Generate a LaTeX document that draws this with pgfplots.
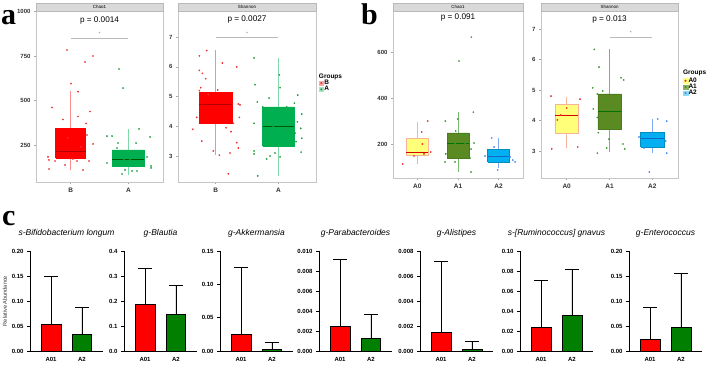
\documentclass[border=0pt]{standalone}
\usepackage{fontspec}
\setmainfont{Liberation Sans}
\newfontfamily\panelfont{Liberation Serif}
\usepackage{pgfplots}
\pgfplotsset{compat=1.18}

\definecolor{stripgray}{HTML}{D9D9D9}
\definecolor{redA}{HTML}{FF0000}
\definecolor{greenA}{HTML}{00B050}
\definecolor{ptRed}{HTML}{F03030}
\definecolor{ptGreen}{HTML}{1EA03C}
\definecolor{yelB}{HTML}{FFFF7A}
\definecolor{yelBorder}{HTML}{F6B29A}
\definecolor{oliveB}{HTML}{5B8A22}
\definecolor{oliveBorder}{HTML}{4C7A1C}
\definecolor{blueB}{HTML}{00B0F0}
\definecolor{blueMed}{HTML}{1565C8}
\definecolor{ptBlue}{HTML}{4A86F0}
\definecolor{ptOlive}{HTML}{3C9A30}
\definecolor{barGreen}{HTML}{007F00}

\newcommand{\strip}[1]{%
  \draw[fill=stripgray, draw=gray!55, line width=0.4pt] (rel axis cs:0,1) rectangle ([yshift=8pt]rel axis cs:1,1);
  \node[font=\fontsize{4.5}{5}\selectfont, inner sep=0pt] at ([yshift=4pt]rel axis cs:0.5,1) {#1};}

\pgfplotsset{
  boxax/.style={scale only axis, anchor=south west, xmin=0.4, xmax=2.6, clip=false,
    axis line style={gray!45, line width=0.5pt},
    tick pos=left, tick align=outside, major tick length=2pt,
    tick style={gray!70, line width=0.4pt},
    xticklabel style={font=\fontsize{6.5}{7}\selectfont\bfseries, text=black!80},
    yticklabel style={font=\fontsize{6}{7}\selectfont\bfseries, text=black!80},
    /pgf/number format/assume math mode=true, /pgf/number format/1000 sep={},
    legend style={draw=none, fill=none, font=\fontsize{6.5}{7}\selectfont\bfseries,
      inner sep=0pt, row sep=-1pt, nodes={inner sep=0.6pt}},
    legend cell align=left},
  pts/.style={only marks, mark=*, mark size=0.65pt, forget plot, color=#1},
  bx/.style={forget plot, line width=0.6pt},
  cbar/.style={scale only axis, anchor=south west, width=73pt, height=100pt,
    xmin=-0.68, xmax=1.68, ymin=0, clip=false,
    axis lines*=left, axis line style={line width=0.9pt, black},
    xtick={0,1}, xticklabels={A01,A2}, xtick style={draw=none},
    ytick style={black, line width=0.8pt}, tick align=outside, major tick length=3pt,
    ticklabel style={font=\fontsize{6}{6.5}\selectfont\bfseries},
    scaled y ticks=false,
    /pgf/number format/assume math mode=true,
    title style={at={(0.5,1)}, anchor=center, yshift=12pt, font=\fontsize{8.5}{10}\selectfont\itshape}},
  rbar/.style={ybar, bar width=0.645, bar shift=0pt, fill=red, draw=black, line width=0.9pt,
    error bars/.cd, y dir=plus, y explicit,
    error bar style={line width=0.9pt, black},
    error mark options={rotate=90, mark size=7pt, line width=0.9pt, black}},
  gbar/.style={ybar, bar width=0.645, bar shift=0pt, fill=barGreen, draw=black, line width=0.9pt,
    error bars/.cd, y dir=plus, y explicit,
    error bar style={line width=0.9pt, black},
    error mark options={rotate=90, mark size=7pt, line width=0.9pt, black}},
}

\begin{document}
\begin{tikzpicture}
\useasboundingbox (0,0) rectangle (708pt,367pt);

% panel labels
\node[anchor=base west, inner sep=0pt, font=\panelfont\bfseries\fontsize{30}{30}\selectfont] at (1pt,342pt) {a};
\node[anchor=base west, inner sep=0pt, font=\panelfont\bfseries\fontsize{30}{30}\selectfont] at (361pt,342pt) {b};
\node[anchor=base west, inner sep=0pt, font=\panelfont\bfseries\fontsize{30}{30}\selectfont] at (2pt,142pt) {c};

%================ panel a : Chao1
\begin{axis}[boxax, at={(36pt,185pt)}, width=127pt, height=171pt,
  ymin=42, ymax=1003, ytick={250,500,750,1000},
  xtick={1,2}, xticklabels={B,A}]
% B
\addplot[bx, draw=redA!45] coordinates {(1,110) (1,556)};
\addplot[bx, fill=redA, draw=redA] coordinates {(0.74,177) (1.26,177) (1.26,345) (0.74,345) (0.74,177)};
\addplot[bx, draw=red!70!black] coordinates {(0.74,212) (1.26,212)};
% A
\addplot[bx, draw=greenA!50] coordinates {(2,80) (2,340)};
\addplot[bx, fill=greenA, draw=greenA] coordinates {(1.725,132) (2.275,132) (2.275,222) (1.725,222) (1.725,132)};
\addplot[bx, draw=green!35!black] coordinates {(1.725,171) (2.275,171)};
\addplot[pts=ptRed] coordinates {(0.937,784) (1.249,716) (1.388,750) (1.007,595) (1.128,550) (0.677,461) (1.336,438) (0.868,393) (1.128,410) (1.267,371) (0.608,183) (0.625,166) (0.729,160) (0.903,138) (0.625,115) (1.215,110) (1.319,160) (1.388,256) (1.284,306) (1.111,160) (1.041,171) (0.95,290) (1.18,240)};
\addplot[pts=ptGreen] coordinates {(1.838,677) (1.908,570) (1.630,300) (1.717,300) (2.185,340) (2.376,295) (1.821,261) (2.133,261) (1.804,233) (2.081,211) (2.202,205) (2.324,183) (1.925,166) (2.029,166) (1.856,138) (2.393,132) (2.393,121) (2.254,149) (1.942,110) (2.064,104) (1.890,87) (2.150,104) (1.752,149) (1.630,149)};
\addplot[forget plot, gray!55, line width=0.8pt] coordinates {(1,851) (2,851)};
\node[font=\fontsize{5}{5}\selectfont, text=gray, inner sep=0pt] at (axis cs:1.5,875) {*};
\node[font=\fontsize{8.2}{9}\selectfont] at (rel axis cs:0.5,0.947) {p = 0.0014};
\strip{Chao1}
\end{axis}

%================ panel a : Shannon
\begin{axis}[boxax, at={(178pt,185pt)}, width=138pt, height=171pt,
  ymin=2.125, ymax=7.88, ytick={3,4,5,6,7},
  xtick={1,2}, xticklabels={B,A},
  legend style={at={(1.02,0.60)}, anchor=north west}]
\addplot[bx, draw=redA!45] coordinates {(1,3.05) (1,6.58)};
\addplot[bx, fill=redA, draw=redA] coordinates {(0.74,4.1) (1.26,4.1) (1.26,5.13) (0.74,5.13) (0.74,4.1)};
\addplot[bx, draw=red!70!black] coordinates {(0.74,4.75) (1.26,4.75)};
\addplot[bx, draw=greenA!50] coordinates {(2,2.33) (2,6.3)};
\addplot[bx, fill=greenA, draw=greenA] coordinates {(1.75,3.33) (2.25,3.33) (2.25,4.65) (1.75,4.65) (1.75,3.33)};
\addplot[bx, draw=green!35!black] coordinates {(1.75,4.0) (2.25,4.0)};
\addplot[pts=ptRed] coordinates {(0.857,6.55) (0.740,6.37) (1.107,6.13) (1.336,6.0) (0.740,5.88) (0.788,5.78) (0.842,5.6) (0.762,5.3) (0.740,5.2) (1.033,5.22) (0.884,5.07) (1.362,4.75) (1.389,4.72) (0.698,4.3) (1.378,4.3) (1.282,4.1) (1.166,3.95) (0.634,3.9) (1.245,3.82) (0.778,3.5) (1.336,3.45) (1.362,3.27) (0.963,3.17) (1.059,3.03) (1.229,3.1) (1.202,2.4)};
\addplot[pts=ptGreen] coordinates {(1.612,6.3) (2.016,5.73) (1.628,5.4) (2.027,5.3) (1.665,4.82) (1.851,4.95) (2.255,4.78) (2.309,5.05) (1.750,4.65) (2.133,4.65) (1.963,4.38) (2.373,4.41) (1.814,4.1) (1.612,4.1) (2.303,4.15) (1.920,4.0) (2.133,3.87) (2.357,3.93) (1.814,3.74) (2.266,3.77) (2.373,3.6) (2.282,3.48) (1.867,3.35) (2.054,3.5) (1.612,3.17) (1.612,3.07) (1.947,3.1) (2.027,2.97) (1.814,2.9) (1.867,3.0) (2.362,3.13) (1.671,2.33)};
\addplot[forget plot, gray!55, line width=0.8pt] coordinates {(1,7.0) (2,7.0)};
\node[font=\fontsize{5}{5}\selectfont, text=gray, inner sep=0pt] at (axis cs:1.5,7.12) {*};
\node[font=\fontsize{8.2}{9}\selectfont] at (rel axis cs:0.5,0.953) {p = 0.0027};
\strip{Shannon}
\node[anchor=west, inner sep=0pt, font=\fontsize{6.5}{7}\selectfont\bfseries] at (rel axis cs:1.02,0.614) {Groups};
\addlegendimage{legend image code/.code={\fill[red!35] (0pt,-2.2pt) rectangle (4.4pt,2.2pt); \fill[ptRed] (2.2pt,0pt) circle (0.8pt);}}
\addlegendentry{B}
\addlegendimage{legend image code/.code={\fill[greenA!35] (0pt,-2.2pt) rectangle (4.4pt,2.2pt); \fill[ptGreen] (2.2pt,0pt) circle (0.8pt);}}
\addlegendentry{A}
\end{axis}

%================ panel b : Chao1
\begin{axis}[boxax, at={(393pt,189pt)}, width=130pt, height=167pt, xmax=3.6,
  ymin=52, ymax=779, ytick={200,400,600},
  xtick={1,2,3}, xticklabels={A0,A1,A2}]
\addplot[bx, draw=yelBorder] coordinates {(1,113) (1,296)};
\addplot[bx, fill=yelB, draw=yelBorder] coordinates {(0.73,152) (1.27,152) (1.27,226) (0.73,226) (0.73,152)};
\addplot[bx, draw=red!85!black, line width=0.7pt] coordinates {(0.73,165) (1.27,165)};
\addplot[bx, draw=ptOlive!70] coordinates {(2,78) (2,339)};
\addplot[bx, fill=oliveB, draw=oliveBorder] coordinates {(1.73,139) (2.27,139) (2.27,248) (1.73,248) (1.73,139)};
\addplot[bx, draw=green!45!black, line width=0.7pt] coordinates {(1.73,204) (2.27,204)};
\addplot[bx, draw=ptBlue!70] coordinates {(3,96) (3,226)};
\addplot[bx, fill=blueB, draw=blueB!80!black] coordinates {(2.73,122) (3.27,122) (3.27,178) (2.73,178) (2.73,122)};
\addplot[bx, draw=blueMed, line width=0.7pt] coordinates {(2.73,145) (3.27,145)};
\addplot[pts=ptRed] coordinates {(0.638,113) (0.917,148) (1.122,200) (1.106,252) (1.254,300) (1.328,165) (1.163,157)};
\addplot[pts=ptOlive] coordinates {(2.329,665) (2.026,561) (2.378,339) (1.688,300) (1.993,309) (1.943,257) (2.117,239) (2.215,239) (1.927,204) (2.173,204) (2.395,204) (1.698,157) (2.321,178) (2.026,165) (1.681,122) (1.927,122) (2.297,139) (2.321,78) (2.198,148)};
\addplot[pts=ptBlue] coordinates {(2.831,226) (2.888,187) (2.666,148) (2.978,87) (3.117,122) (3.348,130) (3.405,122) (3.282,144)};
\node[font=\fontsize{8.2}{9}\selectfont] at (rel axis cs:0.5,0.964) {p = 0.091};
\strip{Chao1}
\end{axis}

%================ panel b : Shannon
\begin{axis}[boxax, at={(541pt,189pt)}, width=137pt, height=167pt, xmax=3.6,
  ymin=2.115, ymax=7.59, ytick={3,4,5,6,7},
  xtick={1,2,3}, xticklabels={A0,A1,A2},
  legend style={at={(1.036,0.605)}, anchor=north west}]
\addplot[bx, draw=yelBorder] coordinates {(1,3.1) (1,4.78)};
\addplot[bx, fill=yelB, draw=yelBorder] coordinates {(0.73,3.59) (1.27,3.59) (1.27,4.54) (0.73,4.54) (0.73,3.59)};
\addplot[bx, draw=red!85!black, line width=0.7pt] coordinates {(0.73,4.18) (1.27,4.18)};
\addplot[bx, draw=ptOlive!70] coordinates {(2,2.97) (2,6.33)};
\addplot[bx, fill=oliveB, draw=oliveBorder] coordinates {(1.73,3.72) (2.27,3.72) (2.27,4.87) (1.73,4.87) (1.73,3.72)};
\addplot[bx, draw=green!45!black, line width=0.7pt] coordinates {(1.73,4.31) (2.27,4.31)};
\addplot[bx, draw=ptBlue!70] coordinates {(3,2.93) (3,4.05)};
\addplot[bx, fill=blueB, draw=blueB!80!black] coordinates {(2.73,3.13) (3.27,3.13) (3.27,3.62) (2.73,3.62) (2.73,3.13)};
\addplot[bx, draw=blueMed, line width=0.7pt] coordinates {(2.73,3.43) (3.27,3.43)};
\addplot[pts=ptRed] coordinates {(0.634,4.8) (1.311,4.7) (1.000,4.41) (0.860,4.18) (0.781,4.02) (0.650,3.07) (1.258,3.13)};
\addplot[pts=ptOlive] coordinates {(1.645,6.33) (1.755,5.75) (2.269,5.4) (2.332,5.33) (1.607,5.07) (1.841,4.97) (1.716,4.87) (1.935,4.66) (2.262,4.77) (1.622,4.38) (2.082,4.44) (1.716,4.1) (1.841,4.13) (1.988,3.79) (2.222,3.79) (1.739,3.6) (1.988,3.39) (2.316,3.23) (2.355,3.07) (1.935,3.1) (1.716,2.93)};
\addplot[pts=ptBlue] coordinates {(2.690,3.46) (2.970,3.52) (3.126,4.05) (3.336,3.98) (3.313,3.33) (3.180,3.23) (2.807,3.1) (3.336,2.93) (2.930,2.31)};
\addplot[forget plot, gray!55, line width=0.8pt] coordinates {(2,6.74) (3,6.74)};
\node[font=\fontsize{5}{5}\selectfont, text=gray, inner sep=0pt] at (axis cs:2.5,6.86) {*};
\node[font=\fontsize{8.2}{9}\selectfont] at (rel axis cs:0.5,0.952) {p = 0.013};
\strip{Shannon}
\node[anchor=west, inner sep=0pt, font=\fontsize{6.5}{7}\selectfont\bfseries] at (rel axis cs:1.036,0.629) {Groups};
\addlegendimage{legend image code/.code={\fill[yelB] (0pt,-2.2pt) rectangle (4.4pt,2.2pt); \fill[ptRed] (2.2pt,0pt) circle (0.8pt);}}
\addlegendentry{A0}
\addlegendimage{legend image code/.code={\fill[oliveB!70] (0pt,-2.2pt) rectangle (4.4pt,2.2pt); \fill[ptOlive] (2.2pt,0pt) circle (0.8pt);}}
\addlegendentry{A1}
\addlegendimage{legend image code/.code={\fill[blueB!45] (0pt,-2.2pt) rectangle (4.4pt,2.2pt); \fill[ptBlue] (2.2pt,0pt) circle (0.8pt);}}
\addlegendentry{A2}
\end{axis}

%================ panel c
\begin{axis}[cbar, at={(30pt,16pt)}, ymax=0.2, ytick={0,0.05,0.10,0.15,0.20},
  yticklabel style={/pgf/number format/.cd, fixed, fixed zerofill, precision=2},
  title={s-Bifidobacterium longum},
  ylabel={Relative Abundance}, ylabel style={font=\fontsize{5.6}{6}\selectfont, text=black!80, yshift=-2pt}]
\addplot[rbar] coordinates {(0,0.054) +- (0,0.096)};
\addplot[gbar] coordinates {(1,0.033) +- (0,0.055)};
\end{axis}

\begin{axis}[cbar, at={(124pt,16pt)}, ymax=0.4, ytick={0,0.1,0.2,0.3,0.4},
  yticklabel style={/pgf/number format/.cd, fixed, fixed zerofill, precision=1},
  title={g-Blautia}]
\addplot[rbar] coordinates {(0,0.188) +- (0,0.142)};
\addplot[gbar] coordinates {(1,0.147) +- (0,0.115)};
\end{axis}

\begin{axis}[cbar, at={(220pt,16pt)}, ymax=0.15, ytick={0,0.05,0.10,0.15},
  yticklabel style={/pgf/number format/.cd, fixed, fixed zerofill, precision=2},
  title={g-Akkermansia}]
\addplot[rbar] coordinates {(0,0.0255) +- (0,0.0995)};
\addplot[gbar] coordinates {(1,0.0025) +- (0,0.010)};
\end{axis}

\begin{axis}[cbar, at={(319pt,16pt)}, ymax=0.010, ytick={0,0.002,0.004,0.006,0.008,0.010},
  yticklabel style={/pgf/number format/.cd, fixed, fixed zerofill, precision=3},
  title={g-Parabacteroides}]
\addplot[rbar] coordinates {(0,0.0025) +- (0,0.0067)};
\addplot[gbar] coordinates {(1,0.0013) +- (0,0.0024)};
\end{axis}

\begin{axis}[cbar, at={(420pt,16pt)}, ymax=0.008, ytick={0,0.002,0.004,0.006,0.008},
  yticklabel style={/pgf/number format/.cd, fixed, fixed zerofill, precision=3},
  title={g-Alistipes}]
\addplot[rbar] coordinates {(0,0.0015) +- (0,0.0057)};
\addplot[gbar] coordinates {(1,0.00016) +- (0,0.0006)};
\end{axis}

\begin{axis}[cbar, at={(520pt,16pt)}, ymax=0.10, ytick={0,0.02,0.04,0.06,0.08,0.10},
  yticklabel style={/pgf/number format/.cd, fixed, fixed zerofill, precision=2},
  title={s-[Ruminococcus] gnavus}]
\addplot[rbar] coordinates {(0,0.0237) +- (0,0.0473)};
\addplot[gbar] coordinates {(1,0.0353) +- (0,0.0464)};
\end{axis}

\begin{axis}[cbar, at={(629pt,16pt)}, ymax=0.20, ytick={0,0.05,0.10,0.15,0.20},
  yticklabel style={/pgf/number format/.cd, fixed, fixed zerofill, precision=2},
  title={g-Enterococcus}]
\addplot[rbar] coordinates {(0,0.024) +- (0,0.0636)};
\addplot[gbar] coordinates {(1,0.047) +- (0,0.108)};
\end{axis}

\end{tikzpicture}
\end{document}
